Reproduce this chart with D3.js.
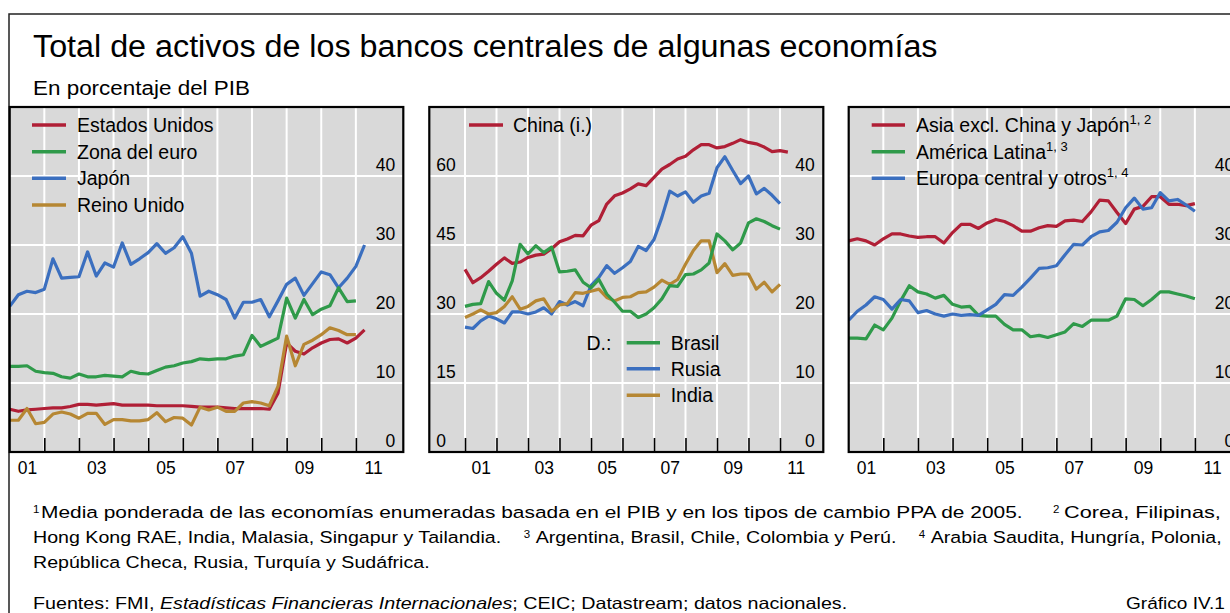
<!DOCTYPE html>
<html><head><meta charset="utf-8">
<script src="https://cdn.jsdelivr.net/npm/d3@7/dist/d3.min.js"></script>
<style>
html,body{margin:0;padding:0;background:#fff;}
svg{display:block;}
text{font-family:"Liberation Sans",Arial,Helvetica,sans-serif;fill:#000;}
</style></head><body>
<svg id="chart" width="1230" height="613"></svg>
<script>
// ---------------- DATA (quarterly, first point = 2001 Q1) ----------------
const quarterStart = 2001;
const estadosUnidos = [6.2,5.9,6.1,6.2,6.3,6.4,6.4,6.6,6.9,6.9,6.8,6.9,7.0,6.8,6.8,6.8,6.8,6.7,6.7,6.7,6.7,6.6,6.5,6.5,6.5,6.4,6.3,6.3,6.3,6.3,6.2,8.5,15.8,14.6,14.2,15.1,15.8,16.3,16.4,15.8,16.5,17.7];
const zonaEuro = [12.4,12.4,12.5,11.7,11.5,11.4,10.9,10.7,11.3,10.9,10.9,11.1,11.0,10.9,11.7,11.4,11.3,11.8,12.3,12.5,12.9,13.1,13.5,13.4,13.5,13.5,13.9,14.1,16.9,15.3,15.9,16.5,22.3,19.4,22.1,19.9,20.7,21.2,23.8,21.8,21.9];
const japon = [21.1,22.8,23.3,23.1,23.6,28.0,25.2,25.3,25.4,29.0,25.5,27.4,26.8,30.3,27.2,28.0,28.9,30.2,28.8,29.6,31.2,28.8,22.6,23.3,22.8,22.1,19.4,21.7,21.7,22.1,19.6,21.9,24.3,25.2,22.7,24.4,26.1,25.7,23.8,25.2,26.9,30.0];
const reinoUnido = [4.6,4.6,6.3,4.1,4.3,5.5,5.8,5.5,4.9,5.6,5.6,4.0,4.7,4.7,4.5,4.5,4.7,5.7,4.4,5.0,4.9,3.9,6.5,6.1,6.5,5.9,5.9,7.1,7.3,7.1,6.7,9.5,16.8,12.5,15.6,16.2,17.0,18.0,17.6,17.0,17.0];
const china = [39.7,36.8,37.9,39.3,40.8,42.2,41.0,41.3,42.3,42.8,43.0,44.2,45.7,46.3,47.1,47.0,49.3,50.3,53.9,55.7,56.3,57.2,58.3,57.9,59.7,61.5,62.5,63.7,64.3,65.7,66.8,66.8,66.1,66.4,67.1,67.9,67.3,67.0,66.3,65.3,65.5,65.2];
const brasil = [21.1,21.4,21.5,24.7,23.0,22.0,24.8,30.1,28.7,29.9,28.9,29.7,26.1,26.2,26.4,24.6,23.8,25.0,22.9,21.7,20.4,20.4,19.5,20.0,20.9,22.2,24.1,24.0,25.7,25.8,26.4,27.4,31.6,30.6,29.3,30.3,33.2,33.8,33.4,32.8,32.3];
const rusia = [18.1,17.9,19.0,19.7,19.3,18.7,20.3,20.3,20.0,20.3,20.9,20.0,21.8,21.3,21.8,21.2,24.1,25.3,27.0,25.9,26.7,27.6,29.8,29.2,30.8,34.0,37.8,37.1,37.7,36.2,37.1,37.5,41.2,42.8,40.8,38.9,40.0,37.4,38.2,37.2,36.0];
const india = [19.5,20.0,20.6,20.0,20.2,21.1,22.5,20.7,21.1,21.9,22.2,20.4,21.3,21.5,23.1,23.0,23.3,23.6,22.4,21.9,22.4,22.5,23.1,23.2,23.9,24.9,24.3,25.0,27.2,29.2,30.6,30.6,26.0,27.3,25.6,25.8,25.8,23.6,24.6,23.2,24.3];
const asiaExcl = [30.6,30.9,30.6,30.0,30.9,31.6,31.6,31.3,31.1,31.2,31.2,30.3,31.8,33.0,33.0,32.4,33.2,33.7,33.4,32.8,32.0,32.0,32.5,32.8,32.7,33.5,33.6,33.4,34.8,36.5,36.4,34.7,33.1,35.2,35.6,37.0,37.0,35.9,35.9,35.7,36.0];
const americaLatina = [16.5,16.5,16.4,18.4,17.7,19.4,21.9,24.1,23.2,22.9,22.3,22.7,21.4,21.0,21.1,19.8,19.7,19.7,18.5,17.7,17.7,16.7,16.9,16.6,17.0,17.4,18.6,18.2,19.1,19.1,19.1,19.7,22.2,22.1,21.2,22.1,23.2,23.2,22.9,22.6,22.2];
const europaCentral = [19.1,20.4,21.3,22.5,22.1,20.7,22.1,21.9,20.2,20.5,20.0,19.7,20.0,19.8,19.9,19.8,20.6,21.4,22.8,22.7,23.9,25.2,26.6,26.7,27.0,28.6,30.1,30.0,31.2,31.9,32.1,33.3,35.4,36.8,35.2,35.4,37.6,36.4,36.6,35.8,34.9];

const yearTicksA = [2002,2003,2004,2005,2006,2007,2008,2009,2010,2011];
const yearTicksB = [2001,2002,2003,2004,2005,2006,2007,2008,2009,2010,2011];
const yearLabelYears = [2001,2003,2005,2007,2009,2011];
const yearLabels = ["01","03","05","07","09","11"];
const rightTicks = [0,10,20,30,40];
const leftTicksChina = [0,15,30,45,60];

// ---------------- STYLE ----------------
const C = {red:"#b01f36", green:"#2f9a4a", blue:"#3b6fbf", gold:"#b68733", bg:"#d9d9d9"};
const svg = d3.select("#chart");
const Y0 = 107, Y1 = 452;

// outer frame
svg.append("rect").attr("x",9).attr("y",14).attr("width",1260).attr("height",640)
  .attr("fill","none").attr("stroke","#222").attr("stroke-width",1.5);

function fitText(x, y, width, size, build) {
  const g = svg.append("g").attr("transform",`translate(${x},${y})`);
  const t = g.append("text").attr("font-size",size);
  build(t);
  const w = t.node().getComputedTextLength();
  g.attr("transform",`translate(${x},${y}) scale(${width / w},1)`);
  return g;
}
function measure(str, size) {
  const t = svg.append("text").attr("font-size",size).text(str);
  const w = t.node().getComputedTextLength();
  t.remove();
  return w;
}

// titles
fitText(33, 57, 905, 31, t => t.text("Total de activos de los bancos centrales de algunas economías"));
fitText(33, 95, 217, 20, t => t.text("En porcentaje del PIB"));

function panel(cfg) {
  const g = svg.append("g");
  const x = d3.scaleLinear().domain(cfg.dom).range([cfg.x0, cfg.x1]);
  const y = d3.scaleLinear().domain([0,50]).range([Y1, Y0]);
  const clipId = "clip" + cfg.id;
  svg.append("clipPath").attr("id",clipId).append("rect")
    .attr("x",cfg.x0).attr("y",Y0).attr("width",cfg.x1-cfg.x0).attr("height",Y1-Y0);
  g.append("rect").attr("x",cfg.x0).attr("y",Y0).attr("width",cfg.x1-cfg.x0).attr("height",Y1-Y0).attr("fill",C.bg);
  g.selectAll(".vg").data(cfg.ticks).join("line")
    .attr("x1",d=>x(d)).attr("x2",d=>x(d)).attr("y1",Y0).attr("y2",Y1)
    .attr("stroke","#fff").attr("stroke-width",2);
  g.selectAll(".hg").data(rightTicks.slice(1)).join("line")
    .attr("x1",cfg.x0).attr("x2",cfg.x1).attr("y1",d=>y(d)).attr("y2",d=>y(d))
    .attr("stroke","#fff").attr("stroke-width",2);
  const tickAxis = g.append("g").attr("transform",`translate(0,${Y1})`)
    .call(d3.axisTop(x).tickValues(cfg.ticks).tickSize(14).tickFormat(""));
  tickAxis.select(".domain").remove();
  tickAxis.selectAll("line").attr("stroke","#000").attr("stroke-width",1.6);
  const lab = g.append("g").attr("transform",`translate(0,${Y1})`)
    .call(d3.axisBottom(x).tickValues(yearLabelYears.map(v=>v+0.5)).tickSize(0).tickPadding(0)
      .tickFormat((d,i)=>yearLabels[i]));
  lab.select(".domain").remove();
  lab.selectAll("text").attr("font-size",17.5).attr("font-family",null).attr("dy",null).attr("y",22).attr("fill","#000");
  const ra = g.append("g").attr("transform",`translate(${cfg.x0+385.5},0)`)
    .call(d3.axisLeft(y).tickValues(rightTicks).tickSize(0).tickPadding(0));
  ra.select(".domain").remove();
  ra.selectAll("text").attr("font-size",17.5).attr("font-family",null).attr("dy",null).attr("y",-6).attr("x",0).attr("fill","#000");
  if (cfg.left) {
    const yl = d3.scaleLinear().domain([0,75]).range([Y1, Y0]);
    const la = g.append("g").attr("transform",`translate(${cfg.x0+7},0)`)
      .call(d3.axisRight(yl).tickValues(leftTicksChina).tickSize(0).tickPadding(0));
    la.select(".domain").remove();
    la.selectAll("text").attr("font-size",17.5).attr("font-family",null).attr("dy",null).attr("y",-6).attr("x",0).attr("fill","#000");
    cfg.yLeft = yl;
  }
  const lg = g.append("g").attr("clip-path",`url(#${clipId})`);
  cfg.series.forEach(s => {
    const ys = s.left ? cfg.yLeft : y;
    const line = d3.line().x((d,i)=>x(quarterStart + i*0.25)).y(d=>ys(d));
    lg.append("path").datum(s.values).attr("d",line).attr("fill","none")
      .attr("stroke",s.color).attr("stroke-width",3.2).attr("stroke-linejoin","round");
  });
  g.append("rect").attr("x",cfg.x0).attr("y",Y0).attr("width",cfg.x1-cfg.x0).attr("height",Y1-Y0)
    .attr("fill","none").attr("stroke","#000").attr("stroke-width",2.2);
  return g;
}

panel({id:1, x0:9.7, x1:403.3, dom:[2001,2012.37], ticks:yearTicksA, series:[
  {values:estadosUnidos, color:C.red},
  {values:japon, color:C.blue},
  {values:zonaEuro, color:C.green},
  {values:reinoUnido, color:C.gold}
]});
panel({id:2, x0:429.3, x1:823.3, dom:[1999.867,2012.375], ticks:yearTicksB, left:true, series:[
  {values:china, color:C.red, left:true},
  {values:rusia, color:C.blue},
  {values:india, color:C.gold},
  {values:brasil, color:C.green}
]});
panel({id:3, x0:848.7, x1:1242.3, dom:[2001,2012.37], ticks:yearTicksA, series:[
  {values:asiaExcl, color:C.red},
  {values:americaLatina, color:C.green},
  {values:europaCentral, color:C.blue}
]});

// legends
function legendItem(x1, x2, tx, y, color, label, sup) {
  svg.append("line").attr("x1",x1).attr("x2",x2).attr("y1",y).attr("y2",y)
    .attr("stroke",color).attr("stroke-width",3.6);
  const t = svg.append("text").attr("x",tx).attr("y",y+7).attr("font-size",19.5).text(label);
  if (sup) t.append("tspan").attr("font-size",13).attr("dy",-8).text(sup);
}
const legendRows = [125,151.7,178.3,205];
[["Estados Unidos",C.red],["Zona del euro",C.green],["Japón",C.blue],["Reino Unido",C.gold]]
  .forEach((d,i)=>legendItem(32,66,77,legendRows[i],d[1],d[0]));
legendItem(469,503,513,125,C.red,"China (i.)");
svg.append("text").attr("x",586.5).attr("y",342.7+7).attr("font-size",19.5).text("D.:");
[["Brasil",C.green],["Rusia",C.blue],["India",C.gold]]
  .forEach((d,i)=>legendItem(626.7,660,670.7,[342.7,368.7,395.3][i],d[1],d[0]));
[["Asia excl. China y Japón",C.red,"1, 2"],["América Latina",C.green,"1, 3"],["Europa central y otros",C.blue,"1, 4"]]
  .forEach((d,i)=>legendItem(871.7,905,916,legendRows[i],d[1],d[0],d[2]));

// footnotes
function sup(x, y, n) {
  svg.append("text").attr("x",x).attr("y",y-5).attr("font-size",11.5).text(n);
}
const FS = 16.5;
sup(33,518,"1");
fitText(41,518,982,FS,t=>t.text("Media ponderada de las economías enumeradas basada en el PIB y en los tipos de cambio PPA de 2005."));
sup(1053,518,"2");
fitText(1064,518,157,FS,t=>t.text("Corea, Filipinas,"));

const seg = ["Hong Kong RAE, India, Malasia, Singapur y Tailandia.",
             "Argentina, Brasil, Chile, Colombia y Perú.",
             "Arabia Saudita, Hungría, Polonia,"];
const ws = seg.map(s => measure(s, FS));
const gapA = 22, gapB = 12;
const sc = (1222 - 33 - 2*(gapA+gapB)) / d3.sum(ws);
let cx = 33;
seg.forEach((s,i) => {
  if (i > 0) { cx += gapA; sup(cx, 543, String(i+2)); cx += gapB; }
  fitText(cx, 543, ws[i]*sc, FS, t=>t.text(s));
  cx += ws[i]*sc;
});
const l3 = "República Checa, Rusia, Turquía y Sudáfrica.";
fitText(33,568,measure(l3,FS)*sc,FS,t=>t.text(l3));
fitText(33,609,815,FS,t=>{
  t.append("tspan").text("Fuentes: FMI, ");
  t.append("tspan").attr("font-style","italic").text("Estadísticas Financieras Internacionales");
  t.append("tspan").text("; CEIC; Datastream; datos nacionales.");
});
fitText(1126,609,99,FS,t=>t.text("Gráfico IV.1"));
</script>
</body></html>
